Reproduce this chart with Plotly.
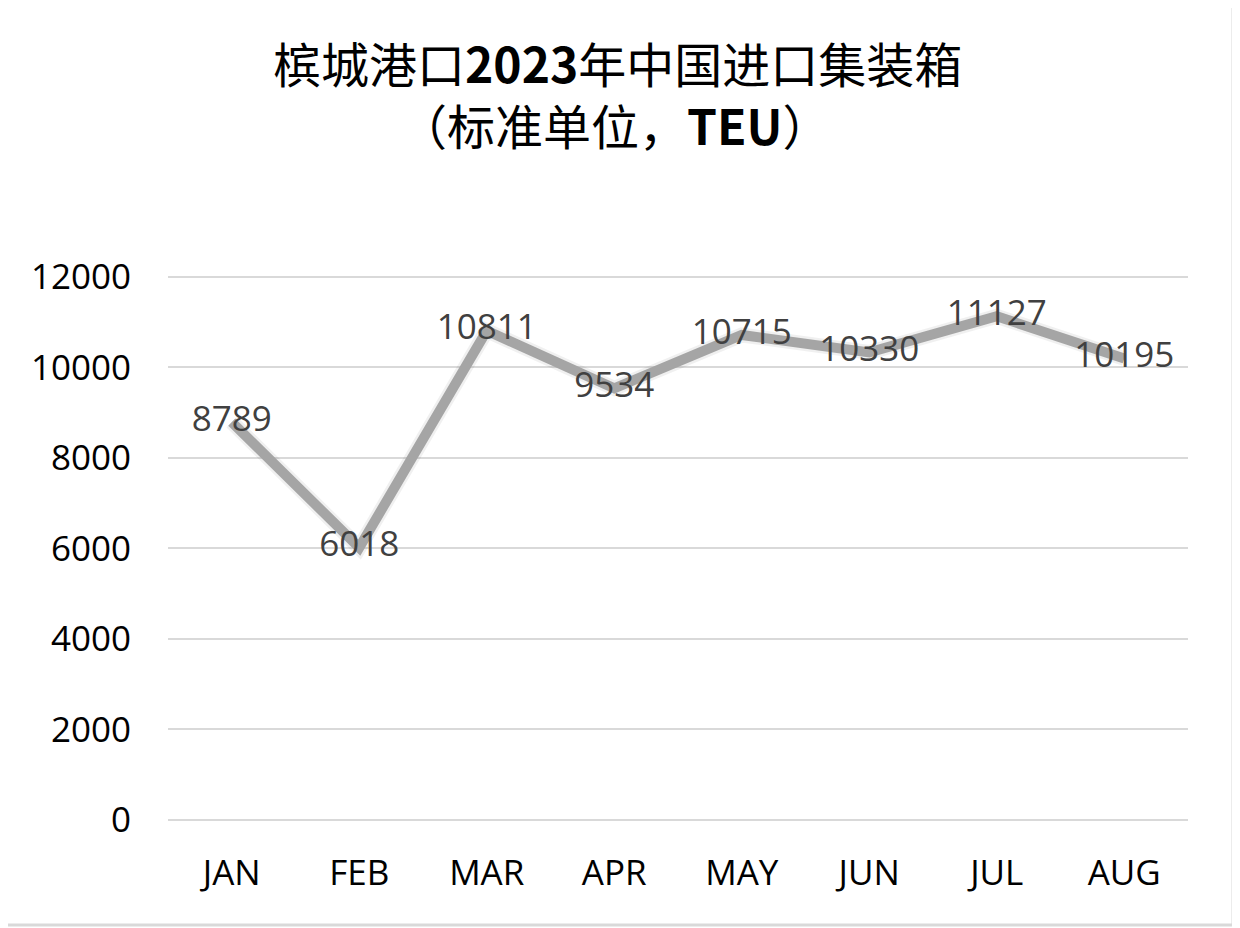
import plotly.graph_objects as go

# Monthly China import containers at Penang port, 2023 (TEU)
months = ["JAN", "FEB", "MAR", "APR", "MAY", "JUN", "JUL", "AUG"]
teu = [8789, 6018, 10811, 9534, 10715, 10330, 11127, 10195]
y_ticks = [0, 2000, 4000, 6000, 8000, 10000, 12000]

title_line1 = "槟城港口<b>2023</b>年中国进口集装箱"
title_line2 = "（标准单位，<b>TEU</b>）"

LATIN = "Open Sans, Noto Sans CJK SC, sans-serif"
CJK = "Noto Sans CJK SC, sans-serif"

# plot area is 1020 x 550 px (page has an 8px body margin, bottom at 820)
PW, PH = 1020, 550

fig = go.Figure()

# soft shadow under the line
fig.add_trace(go.Scatter(
    x=months, y=teu, mode="lines",
    line=dict(color="rgba(0,0,0,0.06)", width=15),
    hoverinfo="skip", showlegend=False,
))

fig.add_trace(go.Scatter(
    x=months, y=teu, mode="lines+text",
    line=dict(color="#a5a5a5", width=10),
    text=[str(v) for v in teu],
    textposition="middle center",
    textfont=dict(family=LATIN, size=35, color="#404040"),
    showlegend=False,
))

fig.update_layout(
    width=1232, height=920,
    margin=dict(l=160, r=52, t=262, b=108),
    paper_bgcolor="white", plot_bgcolor="white",
    xaxis=dict(
        type="category", range=[-0.5, 7.5],
        showgrid=False, zeroline=False, showline=False,
        tickfont=dict(family=LATIN, size=35, color="black"),
        ticks="", ticklabelstandoff=29,
    ),
    yaxis=dict(
        range=[0, 12150], tickvals=y_ticks, tickformat="d",
        showgrid=True, gridcolor="#d9d9d9", gridwidth=2,
        zeroline=True, zerolinecolor="#d9d9d9", zerolinewidth=2,
        tickfont=dict(family=LATIN, size=35, color="black"),
        ticks="", ticklabelstandoff=36,
    ),
    annotations=[
        dict(text=title_line1, xref="paper", yref="paper",
             x=(617 - 168) / PW, y=(820 - 62) / PH,
             xanchor="center", yanchor="middle", showarrow=False,
             font=dict(family=CJK, size=48, color="black")),
        dict(text=title_line2, xref="paper", yref="paper",
             x=(614 - 168) / PW, y=(820 - 124) / PH,
             xanchor="center", yanchor="middle", showarrow=False,
             font=dict(family=CJK, size=48, color="black")),
    ],
    shapes=[dict(
        type="rect", xref="paper", yref="paper",
        x0=-0.5, x1=(1233 - 168) / PW,
        y0=(820 - 925) / PH, y1=2.0,
        line=dict(color="#d9d9d9", width=3), layer="below",
    )],
)

fig.write_html("out.html")
